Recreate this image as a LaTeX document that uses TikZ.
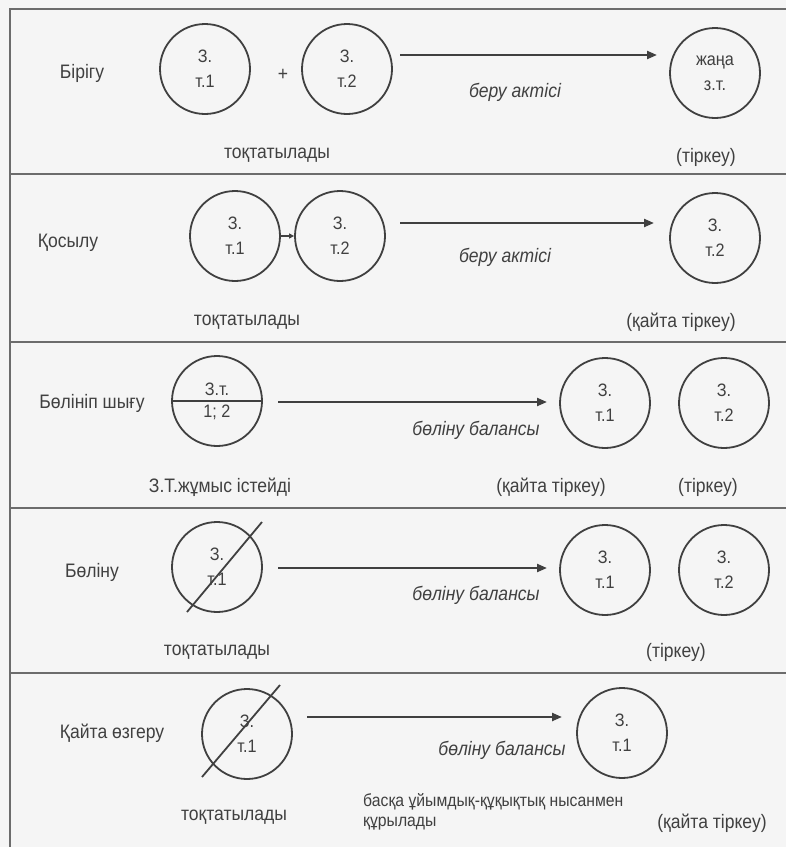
\documentclass[tikz,border=0pt]{standalone}
\usepackage{fontspec}
\setmainfont{Liberation Sans}[FakeStretch=0.9]
\usetikzlibrary{arrows.meta}
\definecolor{ink}{HTML}{404040}
\definecolor{paper}{HTML}{F5F5F5}
\definecolor{rule}{HTML}{6C6C6C}

\begin{document}
\begin{tikzpicture}[x=1pt,y=-1pt,
  ent/.style={circle,draw=ink,line width=1.8pt,minimum size=90pt,inner sep=0pt,
              align=center,text=ink,font=\fontsize{18}{25}\selectfont},
  lbl/.style={text=ink,inner sep=0pt,font=\fontsize{19.5}{22}\selectfont},
  act/.style={text=ink,inner sep=0pt,font=\fontsize{19.5}{22}\selectfont\itshape},
  flow/.style={draw=ink,line width=2.2pt,-{Triangle[length=10pt,width=8pt]}},
  cross/.style={draw=ink,line width=1.8pt},
  frame/.style={draw=rule,line width=1.6pt}]

% page and table frame
\fill[paper] (0,0) rectangle (786,847);
\useasboundingbox (0,0) rectangle (786,847);
\draw[frame] (10,847) -- (10,9) -- (786,9);
\foreach \yy in {174,342,508,673}
  \draw[frame] (10,\yy) -- (786,\yy);

% --- merger
\node[lbl] (l1) at (82,73) {Бірігу};
\node[ent] (c11) at (205,69) {З.\\т.1};
\node[lbl] (p1) at (283,75) {+};
\node[ent] (c12) at (347,69) {З.\\т.2};
\node[ent] (c13) at (715,73) {жаңа\\з.т.};
\coordinate (a1s) at (400,55);
\coordinate (a1e) at (657,55);
\draw[flow] (a1s) -- (a1e);
\node[act] (t1) at (515,92) {беру актісі};
\node[lbl] (s1) at (277,155) {тоқтатылады};
\node[lbl] (r1) at (706,157) {(тіркеу)};

% --- accession
\node[lbl] (l2) at (68,243) {Қосылу};
\node[ent] (c21) at (235,236) {З.\\т.1};
\node[ent] (c22) at (340,236) {З.\\т.2};
\draw[draw=ink,line width=1.6pt,-{Triangle[length=5pt,width=5pt]}] (c21.east) -- (c22.west);
\coordinate (a2s) at (400,223);
\coordinate (a2e) at (654,223);
\draw[flow] (a2s) -- (a2e);
\node[act] (t2) at (505,257) {беру актісі};
\node[ent] (c23) at (715,238) {З.\\т.2};
\node[lbl] (s2) at (247,322) {тоқтатылады};
\node[lbl] (r2) at (681,322) {(қайта тіркеу)};

% --- spin-off
\node[lbl] (l3) at (92,403) {Бөлініп шығу};
\node[ent] (c31) at (217,401) {};
\draw[cross] (c31.west) -- (c31.east);
\node[lbl,font=\fontsize{18}{21}\selectfont] (c31a) at (217,389) {З.т.};
\node[lbl,font=\fontsize{18}{21}\selectfont] (c31b) at (217,412) {1; 2};
\coordinate (a3s) at (278,402);
\coordinate (a3e) at (547,402);
\draw[flow] (a3s) -- (a3e);
\node[act] (t3) at (476,430) {бөліну балансы};
\node[ent] (c32) at (605,403) {З.\\т.1};
\node[ent] (c33) at (724,403) {З.\\т.2};
\node[lbl] (s3) at (220,487) {З.Т.жұмыс істейді};
\node[lbl] (r3a) at (551,487) {(қайта тіркеу)};
\node[lbl] (r3b) at (708,487) {(тіркеу)};

% --- division
\node[lbl] (l4) at (92,572) {Бөліну};
\node[ent] (c41) at (217,567) {З.\\т.1};
\coordinate (x4a) at (187,612);
\coordinate (x4b) at (262,522);
\draw[cross] (x4a) -- (x4b);
\coordinate (a4s) at (278,568);
\coordinate (a4e) at (547,568);
\draw[flow] (a4s) -- (a4e);
\node[act] (t4) at (476,595) {бөліну балансы};
\node[ent] (c42) at (605,570) {З.\\т.1};
\node[ent] (c43) at (724,570) {З.\\т.2};
\node[lbl] (s4) at (217,652) {тоқтатылады};
\node[lbl] (r4) at (676,652) {(тіркеу)};

% --- transformation
\node[lbl] (l5) at (112,733) {Қайта өзгеру};
\node[ent] (c51) at (247,734) {З.\\т.1};
\coordinate (x5a) at (202,777);
\coordinate (x5b) at (280,685);
\draw[cross] (x5a) -- (x5b);
\coordinate (a5s) at (307,717);
\coordinate (a5e) at (562,717);
\draw[flow] (a5s) -- (a5e);
\node[act] (t5) at (502,750) {бөліну балансы};
\node[ent] (c52) at (622,733) {З.\\т.1};
\node[lbl] (s5) at (234,817) {тоқтатылады};
\node[lbl,anchor=west,align=left,font=\fontsize{17.5}{20}\selectfont] (n5) at (363,812)
  {басқа ұйымдық-құқықтық нысанмен\\құрылады};
\node[lbl] (r5) at (712,823) {(қайта тіркеу)};
\end{tikzpicture}
\end{document}
